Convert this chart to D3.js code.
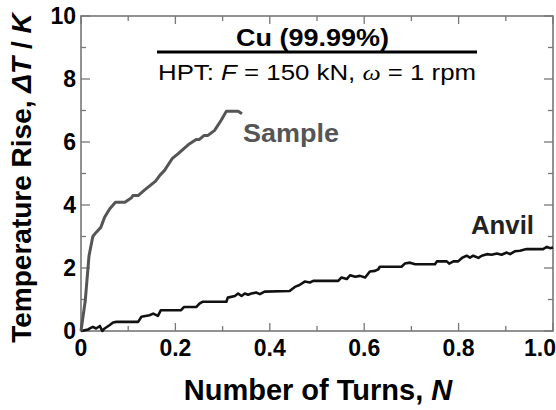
<!DOCTYPE html>
<html>
<head>
<meta charset="utf-8">
<script src="https://cdn.jsdelivr.net/npm/d3@7"></script>
<style>
  body { margin: 0; background: #fff; }
  svg text { font-family: "Liberation Sans", Arial, sans-serif; }
</style>
</head>
<body>
<div id="chart"></div>
<script>
// Sample temperature rise (grey curve)
var sampleN = [0, 0.009, 0.017, 0.025, 0.032, 0.042, 0.050, 0.061, 0.073, 0.093, 0.107, 0.110, 0.121,
  0.135, 0.158, 0.167, 0.177, 0.193, 0.206, 0.227, 0.244, 0.251, 0.261, 0.269, 0.283, 0.297, 0.308, 0.333, 0.341];
var sampleT = [0, 0.96, 2.39, 3.0, 3.13, 3.29, 3.61, 3.88, 4.09, 4.09, 4.23, 4.30, 4.30,
  4.48, 4.76, 4.94, 5.10, 5.47, 5.63, 5.91, 6.08, 6.08, 6.21, 6.21, 6.37, 6.69, 6.98, 6.98, 6.90];

// Anvil temperature rise (black stepped curve)
var anvilN = [0, 0.015, 0.025, 0.032, 0.040, 0.045, 0.050, 0.061, 0.068, 0.075, 0.121, 0.128, 0.145, 0.153,
  0.163, 0.169, 0.212, 0.218, 0.244, 0.251, 0.258, 0.308, 0.311, 0.326, 0.333, 0.340, 0.347, 0.354, 0.361,
  0.371, 0.379, 0.389, 0.442, 0.453, 0.463, 0.474, 0.485, 0.492, 0.545, 0.552, 0.563, 0.570, 0.581, 0.591,
  0.602, 0.612, 0.623, 0.630, 0.633, 0.679, 0.686, 0.697, 0.708, 0.750, 0.754, 0.775, 0.780, 0.789, 0.799,
  0.807, 0.817, 0.824, 0.831, 0.842, 0.849, 0.860, 0.870, 0.881, 0.891, 0.902, 0.909, 0.919, 0.930, 0.944,
  0.979, 0.987, 0.994, 1.0];
var anvilT = [0, 0.05, 0.13, 0.08, 0.16, 0.0, 0.08, 0.19, 0.27, 0.29, 0.29, 0.45, 0.50, 0.55,
  0.48, 0.66, 0.66, 0.76, 0.76, 0.87, 0.93, 0.93, 1.06, 1.11, 1.19, 1.11, 1.19, 1.15, 1.19,
  1.22, 1.17, 1.25, 1.27, 1.40, 1.46, 1.57, 1.54, 1.59, 1.59, 1.70, 1.65, 1.77, 1.72, 1.75,
  1.70, 1.89, 1.91, 1.96, 2.04, 2.04, 2.14, 2.17, 2.12, 2.12, 2.21, 2.21, 2.14, 2.21, 2.21,
  2.32, 2.39, 2.33, 2.39, 2.32, 2.39, 2.44, 2.42, 2.46, 2.42, 2.49, 2.44, 2.53, 2.55, 2.60,
  2.60, 2.67, 2.63, 2.65];

var xTicks = [0, 0.2, 0.4, 0.6, 0.8, 1.0];
var xMinor = [0.1, 0.3, 0.5, 0.7, 0.9];
var yTicks = [0, 2, 4, 6, 8, 10];
var yMinor = [1, 3, 5, 7, 9];

var w = 556, h = 410;
var mLeft = 81, mRight = 553, mTop = 16, mBottom = 331;

var x = d3.scaleLinear().domain([0, 1]).range([mLeft, mRight]);
var y = d3.scaleLinear().domain([0, 10]).range([mBottom, mTop]);

var svg = d3.select("#chart").append("svg")
  .attr("width", w).attr("height", h);

var axisColor = "#777";

// Ticks, pointing inward, mirrored on all four sides
var tickG = svg.append("g").attr("stroke", axisColor).attr("stroke-width", 1.3);
[[xTicks, 8], [xMinor, 5]].forEach(function(p) {
  tickG.selectAll(null).data(p[0]).enter().append("line")
    .attr("x1", function(d) { return x(d); }).attr("x2", function(d) { return x(d); })
    .attr("y1", mBottom).attr("y2", mBottom - p[1]);
  tickG.selectAll(null).data(p[0]).enter().append("line")
    .attr("x1", function(d) { return x(d); }).attr("x2", function(d) { return x(d); })
    .attr("y1", mTop).attr("y2", mTop + p[1]);
});
[[yTicks, 9], [yMinor, 5]].forEach(function(p) {
  tickG.selectAll(null).data(p[0]).enter().append("line")
    .attr("y1", function(d) { return y(d); }).attr("y2", function(d) { return y(d); })
    .attr("x1", mLeft).attr("x2", mLeft + p[1]);
  tickG.selectAll(null).data(p[0]).enter().append("line")
    .attr("y1", function(d) { return y(d); }).attr("y2", function(d) { return y(d); })
    .attr("x1", mRight).attr("x2", mRight - p[1]);
});

// Frame
svg.append("rect")
  .attr("x", mLeft).attr("y", mTop)
  .attr("width", mRight - mLeft).attr("height", mBottom - mTop)
  .attr("fill", "none").attr("stroke", axisColor).attr("stroke-width", 1.6);

// Tick labels (last x label pushed in so it ends at the picture edge)
svg.selectAll(".xl").data(xTicks).enter().append("text")
  .attr("x", function(d, i) { return i === xTicks.length - 1 ? w : x(d); })
  .attr("y", mBottom + 25)
  .attr("text-anchor", function(d, i) { return i === xTicks.length - 1 ? "end" : "middle"; })
  .attr("font-size", 23).attr("font-weight", "bold")
  .text(function(d) { return d === 0 ? "0" : d3.format(".1f")(d); });

svg.selectAll(".yl").data(yTicks).enter().append("text")
  .attr("x", mLeft - 5).attr("y", function(d) { return y(d) + 8; })
  .attr("text-anchor", "end").attr("font-size", 23).attr("font-weight", "bold")
  .text(function(d) { return d; });

// Axis titles
var xt = svg.append("text")
  .attr("x", 318).attr("y", 400)
  .attr("text-anchor", "middle").attr("font-size", 29).attr("font-weight", "bold");
xt.append("tspan").text("Number of Turns, ");
xt.append("tspan").attr("font-style", "italic").text("N");

var yt = svg.append("text")
  .attr("transform", "translate(31,178) rotate(-90)")
  .attr("text-anchor", "middle").attr("font-size", 28).attr("font-weight", "bold");
yt.append("tspan").text("Temperature Rise, ");
yt.append("tspan").attr("font-style", "italic").text("\u0394T");
yt.append("tspan").text(" / ");
yt.append("tspan").attr("font-style", "italic").text("K");

// Lines
var line = d3.line()
  .x(function(d) { return x(d[0]); })
  .y(function(d) { return y(d[1]); });

svg.append("path")
  .datum(anvilN.map(function(n, i) { return [n, anvilT[i]]; }))
  .attr("d", line).attr("fill", "none")
  .attr("stroke", "#111").attr("stroke-width", 2.6).attr("stroke-linejoin", "round");

svg.append("path")
  .datum(sampleN.map(function(n, i) { return [n, sampleT[i]]; }))
  .attr("d", line).attr("fill", "none")
  .attr("stroke", "#555").attr("stroke-width", 3).attr("stroke-linejoin", "round");

// Series labels
svg.append("text").attr("x", 243).attr("y", 142)
  .attr("font-size", 26).attr("font-weight", "bold").attr("fill", "#555")
  .attr("textLength", 96).attr("lengthAdjust", "spacingAndGlyphs")
  .text("Sample");
svg.append("text").attr("x", 471).attr("y", 234)
  .attr("font-size", 26).attr("font-weight", "bold").attr("fill", "#222")
  .attr("textLength", 63).attr("lengthAdjust", "spacingAndGlyphs")
  .text("Anvil");

// Title block
svg.append("text").attr("x", 236).attr("y", 46)
  .attr("font-size", 23).attr("font-weight", "bold")
  .attr("textLength", 153).attr("lengthAdjust", "spacingAndGlyphs")
  .text("Cu (99.99%)");
svg.append("line")
  .attr("x1", 157).attr("x2", 477).attr("y1", 52).attr("y2", 52)
  .attr("stroke", "#000").attr("stroke-width", 3);
var sub = svg.append("text").attr("x", 158).attr("y", 80)
  .attr("font-size", 22)
  .attr("textLength", 318).attr("lengthAdjust", "spacingAndGlyphs");
sub.append("tspan").text("HPT: ");
sub.append("tspan").attr("font-style", "italic").text("F");
sub.append("tspan").text(" = 150 kN, ");
sub.append("tspan").attr("font-style", "italic")
  .style("font-family", "'Liberation Serif', 'Times New Roman', serif").text("\u03C9");
sub.append("tspan").text(" = 1 rpm");
</script>
</body>
</html>
